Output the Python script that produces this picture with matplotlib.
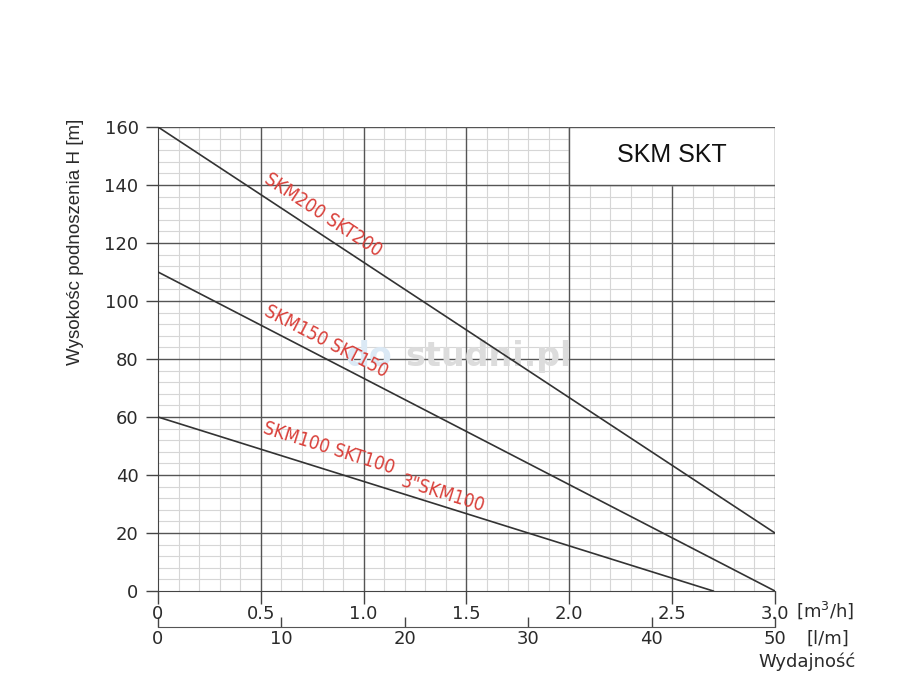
import numpy as np
import matplotlib
matplotlib.use("Agg")
import matplotlib.pyplot as plt
from matplotlib.ticker import MultipleLocator

# pump curves: (Q [m3/h], H [m]) endpoints
q200 = [0.0, 3.0]
h200 = [160, 20]
q150 = [0.0, 3.0]
h150 = [110, 0]
q100 = [0.0, 2.7]
h100 = [60, 0]

labels = ["SKM200 SKT200", "SKM150 SKT150", "SKM100 SKT100", '3"SKM100']
label_pos = [(0.5, 140), (0.5, 94), (0.5, 53), (1.17, 34.8)]
label_q = [[0.0, 3.0], [0.0, 3.0], [0.0, 2.7], [0.0, 2.7]]
label_h = [[160, 20], [110, 0], [60, 0], [60, 0]]

xticks = [0, 0.5, 1.0, 1.5, 2.0, 2.5, 3.0]
xticklabels = ["0", "0.5", "1.0", "1.5", "2.0", "2.5", "3.0"]
lm_ticks = [0, 10, 20, 30, 40, 50]

fig = plt.figure(figsize=(9.17, 7), dpi=100)
ax = fig.add_axes([0.1723, 0.1557, 0.6728, 0.6629])

ax.set_xlim(0, 3.0)
ax.set_ylim(0, 160)
ax.xaxis.set_major_locator(MultipleLocator(0.5))
ax.xaxis.set_minor_locator(MultipleLocator(0.1))
ax.yaxis.set_major_locator(MultipleLocator(20))
ax.yaxis.set_minor_locator(MultipleLocator(4))
ax.grid(which="minor", color="#d6d6d6", lw=0.8, zorder=0)
ax.set_axisbelow(True)
# major grid drawn on top of the minor one
for xv in np.arange(0.5, 3.01, 0.5):
    ax.axvline(xv, color="#555555", lw=1.0, zorder=1)
for yv in np.arange(20, 161, 20):
    ax.axhline(yv, color="#555555", lw=1.0, zorder=1)
for s in ["top", "right"]:
    ax.spines[s].set_visible(False)
ax.spines["left"].set_color("#444444")
ax.spines["bottom"].set_color("#444444")

ax.set_xticks(xticks)
ax.set_xticklabels(xticklabels)
ax.tick_params(axis="both", which="major", length=9, width=1, color="#444444",
               labelsize=13, labelcolor="#2a2a2a")
ax.tick_params(axis="both", which="minor", length=0)
ax.tick_params(axis="x", pad=1)
ax.tick_params(axis="y", pad=5)

# title box
ax.fill_between([2.0, 3.0], 140, 160, color="white", zorder=1.5)
ax.plot([2.0, 2.0, 3.0, 3.0, 2.0], [160, 140, 140, 160, 160], color="#555555", lw=1.0, zorder=1.6)
ax.text(2.5, 150.5, "SKM SKT", ha="center", va="center", fontsize=18,
        family="Liberation Sans", color="#111111", zorder=2)

# watermark
ax.text(0.91, 81, "do", fontsize=24, fontweight="bold", color="#dbe9f5",
        ha="left", va="center", zorder=1.2)
ax.text(1.2, 81, "studni.pl", fontsize=24, fontweight="bold", color="#dcdcdc",
        ha="left", va="center", zorder=1.2)

# curves
ax.plot(q200, h200, color="#333333", lw=1.2, zorder=3)
ax.plot(q150, h150, color="#333333", lw=1.2, zorder=3)
ax.plot(q100, h100, color="#333333", lw=1.2, zorder=3)

fig.canvas.draw()
for txt, (x, y), qq, hh in zip(labels, label_pos, label_q, label_h):
    p0 = ax.transData.transform((qq[0], hh[0]))
    p1 = ax.transData.transform((qq[1], hh[1]))
    ang = np.degrees(np.arctan2(p1[1] - p0[1], p1[0] - p0[0]))
    ax.text(x, y, txt, rotation=ang, rotation_mode="anchor", ha="left", va="bottom",
            fontsize=13.5, color="#d9403a", family="DejaVu Sans", fontstretch="condensed",
            zorder=4)

# secondary l/min axis
sec = ax.secondary_xaxis(-0.0776, functions=(lambda q: q * 50 / 3.0, lambda l: l * 3.0 / 50))
sec.set_xticks(lm_ticks)
sec.tick_params(direction="in", length=7, width=1, color="#444444", labelsize=13,
                labelcolor="#2a2a2a", pad=2)
sec.spines["bottom"].set_color("#555555")

fig.text(0.868, 0.128, "[m$^3$/h]", fontsize=13, ha="left", va="center", color="#2a2a2a")
fig.text(0.879, 0.088, "[l/m]", fontsize=13, ha="left", va="center", color="#2a2a2a")
fig.text(0.933, 0.054, "Wydajność", fontsize=13, ha="right", va="center", color="#2a2a2a")
fig.text(0.082, 0.83, "Wysokośc podnoszenia H [m]", rotation=90, fontsize=13.5,
         family="Liberation Sans", ha="center", va="top", color="#2a2a2a")

fig.savefig("out.png", dpi=100, facecolor="white")
